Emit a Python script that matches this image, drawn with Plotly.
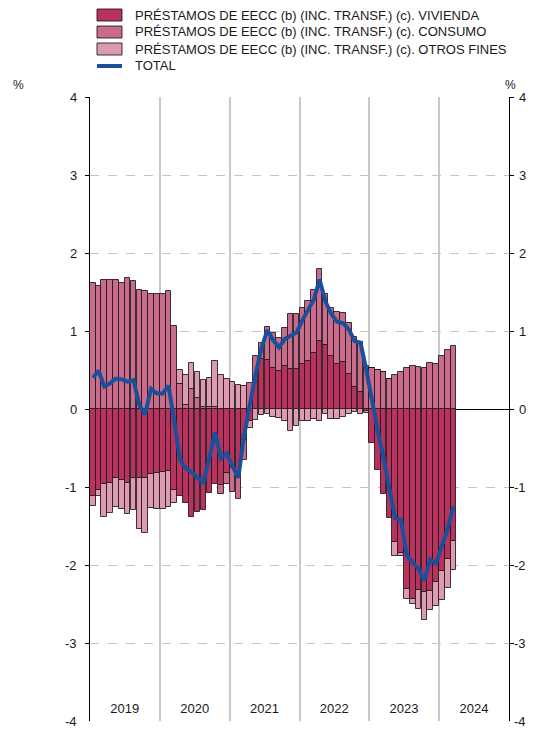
import plotly.graph_objects as go
import pandas as pd

# Monthly categories: Jan 2019 .. Mar 2024
months = pd.date_range("2019-01-01", "2024-03-01", freq="MS").strftime("%Y-%m-%d").tolist()

vivienda = [-1.11, -1.04, -0.96, -0.95, -0.89, -0.91, -0.95, -0.89, -0.88, -0.88, -0.83, -0.82,
            -0.81, -0.80, -1.04, -1.11, -1.20, -1.38, -1.32, -1.29, -1.08, -0.96, -0.97, -0.82,
            -0.76, -0.83, -0.40, -0.16, 0.36, 0.64, 0.63, 0.52, 0.49, 0.55, 0.51, 0.51,
            0.58, 0.62, 0.72, 0.87, 0.82, 0.68, 0.58, 0.60, 0.45, 0.28, 0.22, -0.02,
            -0.44, -0.78, -1.085, -1.40, -1.70, -1.85, -2.31, -2.43, -2.32, -2.34, -2.33, -2.22,
            -2.08, -1.92, -1.69]
consumo = [1.61, 1.58, 1.65, 1.65, 1.66, 1.62, 1.68, 1.645, 1.53, 1.51, 1.48, 1.47,
           1.48, 1.51, 1.06, 0.32, 0.05, 0.26, 0.14, 0.02, 0.03, 0.02, -0.12, -0.14,
           -0.31, -0.33, -0.25, 0.33, 0.32, 0.21, 0.42, 0.45, 0.42, 0.49, 0.71, 0.71,
           0.72, 0.77, 0.80, 0.93, 0.66, 0.61, 0.66, 0.63, 0.65, 0.64, 0.64, 0.555,
           0.52, 0.50, 0.48, 0.39, 0.44, 0.47, 0.52, 0.555, 0.535, 0.52, 0.585, 0.58,
           0.68, 0.755, 0.81]
otros = [-0.13, -0.07, -0.42, -0.38, -0.37, -0.37, -0.39, -0.41, -0.66, -0.71, -0.44, -0.46,
         -0.47, -0.45, -0.17, 0.18, 0.39, 0.33, 0.33, 0.35, 0.37, 0.60, 0.44, 0.38,
         0.35, 0.31, 0.29, -0.08, -0.14, -0.08, -0.07, -0.10, -0.11, -0.16, -0.28, -0.22,
         -0.15, -0.15, -0.13, -0.15, -0.07, -0.13, -0.13, -0.10, -0.07, -0.04, -0.06, -0.03,
         0.0, 0.0, 0.0, 0.0, -0.18, -0.04, -0.12, -0.07, -0.24, -0.37, -0.25, -0.30,
         -0.37, -0.37, -0.37]
total = [0.40, 0.49, 0.29, 0.33, 0.39, 0.38, 0.35, 0.37, 0.05, -0.07, 0.26, 0.20,
         0.20, 0.30, -0.15, -0.65, -0.76, -0.81, -0.88, -0.94, -0.63, -0.30, -0.63, -0.57,
         -0.74, -0.88, -0.35, 0.06, 0.45, 0.78, 1.01, 0.88, 0.79, 0.90, 0.94, 0.98,
         1.14, 1.27, 1.40, 1.66, 1.38, 1.22, 1.12, 1.10, 1.02, 0.87, 0.85, 0.50,
         0.07, -0.29, -0.63, -1.04, -1.40, -1.42, -1.88, -1.97, -2.05, -2.20, -1.93, -1.98,
         -1.76, -1.53, -1.25]

names = ["PRÉSTAMOS DE EECC (b) (INC. TRANSF.) (c). VIVIENDA",
         "PRÉSTAMOS DE EECC (b) (INC. TRANSF.) (c). CONSUMO",
         "PRÉSTAMOS DE EECC (b) (INC. TRANSF.) (c). OTROS FINES",
         "TOTAL"]
year_starts = ["2019-01-01", "2020-01-01", "2021-01-01", "2022-01-01", "2023-01-01",
               "2024-01-01", "2025-01-01"]
year_mids = ["2019-07-02", "2020-07-02", "2021-07-02", "2022-07-02", "2023-07-02", "2024-07-02"]
year_labels = ["2019", "2020", "2021", "2022", "2023", "2024"]
y_ticks = [-4, -3, -2, -1, 0, 1, 2, 3, 4]
y_labels = ["-4", "-3", "-2", "-1", "0", "1", "2", "3", "4"]

colors = ["#b7335d", "#c96b8a", "#dd9bb0"]
line_color = "#1a4f9c"
outline = "rgba(30,20,25,0.85)"
FONT = "Liberation Sans, Arial, sans-serif"
TXT = "#1a1a1a"
bar_w = 29 * 24 * 3600 * 1000

# page has an 8px body margin: figure is placed at (8, 8); keep the page from overflowing
OFF = 8
W, H = 534 - OFF, 742 - 2 * OFF
PL, PR, PT, PB = 90, 509, 97, 721  # plot area in page pixels

fig = go.Figure()
for vals, name, col in zip([vivienda, consumo, otros], names[:3], colors):
    fig.add_trace(go.Bar(
        x=months, y=vals, name=name, width=bar_w,
        xperiod="M1", xperiodalignment="middle",
        marker=dict(color=col, line=dict(color=outline, width=1)),
    ))
fig.add_trace(go.Scatter(
    x=months, y=total, name=names[3], mode="lines",
    xperiod="M1", xperiodalignment="middle",
    line=dict(color=line_color, width=4),
))
# invisible trace for the right axis
fig.add_trace(go.Scatter(x=[months[0]], y=[0], yaxis="y2", mode="markers",
                         marker=dict(opacity=0), showlegend=False, hoverinfo="skip"))

yax = dict(range=[-4, 4], tickvals=y_ticks, showticklabels=False,
           showline=True, linecolor="black", linewidth=1.2,
           ticks="outside", ticklen=4, tickcolor="black")

fig.update_layout(
    width=W, height=H,
    margin=dict(l=PL - OFF, r=W - (PR - OFF), t=PT - OFF, b=H - (PB - OFF), autoexpand=False),
    barmode="relative", bargap=0.0,
    plot_bgcolor="white", paper_bgcolor="white",
    font=dict(family=FONT, size=13, color=TXT),
    showlegend=False,
    xaxis=dict(type="date", range=["2019-01-01", "2025-01-01"],
               tickvals=year_mids, ticktext=year_labels,
               ticklabelposition="inside", ticks="inside", ticklen=5,
               tickcolor="rgba(0,0,0,0)",
               showgrid=False, showline=False, zeroline=False,
               minor=dict(tickmode="array", tickvals=year_starts, showgrid=True,
                          gridcolor="#c9c9c9", gridwidth=1.5, ticks=""),
               tickfont=dict(size=13, family=FONT, color=TXT)),
    yaxis=dict(**yax, showgrid=True, gridcolor="#c4c4c4", griddash="dash", gridwidth=1,
               zeroline=True, zerolinecolor="black", zerolinewidth=1),
    yaxis2=dict(**yax, overlaying="y", side="right", showgrid=False, zeroline=False),
)

# Manual legend and axis labels (paper coordinates computed from page pixels)
def px_x(p):
    return (p - PL) / float(PR - PL)

def px_y(p):
    return (PB - p) / float(PB - PT)

for v, lab in zip(y_ticks, y_labels):
    for xpos in (79, 528):
        fig.add_annotation(text=lab, xref="paper", yref="y", x=px_x(xpos), y=v,
                           xanchor="right", yanchor="middle", showarrow=False,
                           font=dict(size=13, family=FONT, color=TXT))

rows = [15, 32, 49, 66]
for i, (name, row) in enumerate(zip(names, rows)):
    if i < 3:
        fig.add_shape(type="rect", xref="paper", yref="paper",
                      x0=px_x(97), x1=px_x(122), y0=px_y(row + 6), y1=px_y(row - 6),
                      fillcolor=colors[i], line=dict(color=outline, width=1))
    else:
        fig.add_shape(type="line", xref="paper", yref="paper",
                      x0=px_x(97), x1=px_x(122), y0=px_y(row), y1=px_y(row),
                      line=dict(color=line_color, width=4))
    fig.add_annotation(text=name, xref="paper", yref="paper", x=px_x(133), y=px_y(row),
                       xanchor="left", yanchor="middle", showarrow=False,
                       font=dict(size=13, family=FONT, color=TXT))

fig.add_annotation(text="%", xref="paper", yref="paper", x=px_x(18), y=px_y(85),
                   showarrow=False, xanchor="center", yanchor="middle",
                   font=dict(size=12, family=FONT, color=TXT))
fig.add_annotation(text="%", xref="paper", yref="paper", x=px_x(510), y=px_y(85),
                   showarrow=False, xanchor="center", yanchor="middle",
                   font=dict(size=12, family=FONT, color=TXT))

fig.write_html("out.html")
